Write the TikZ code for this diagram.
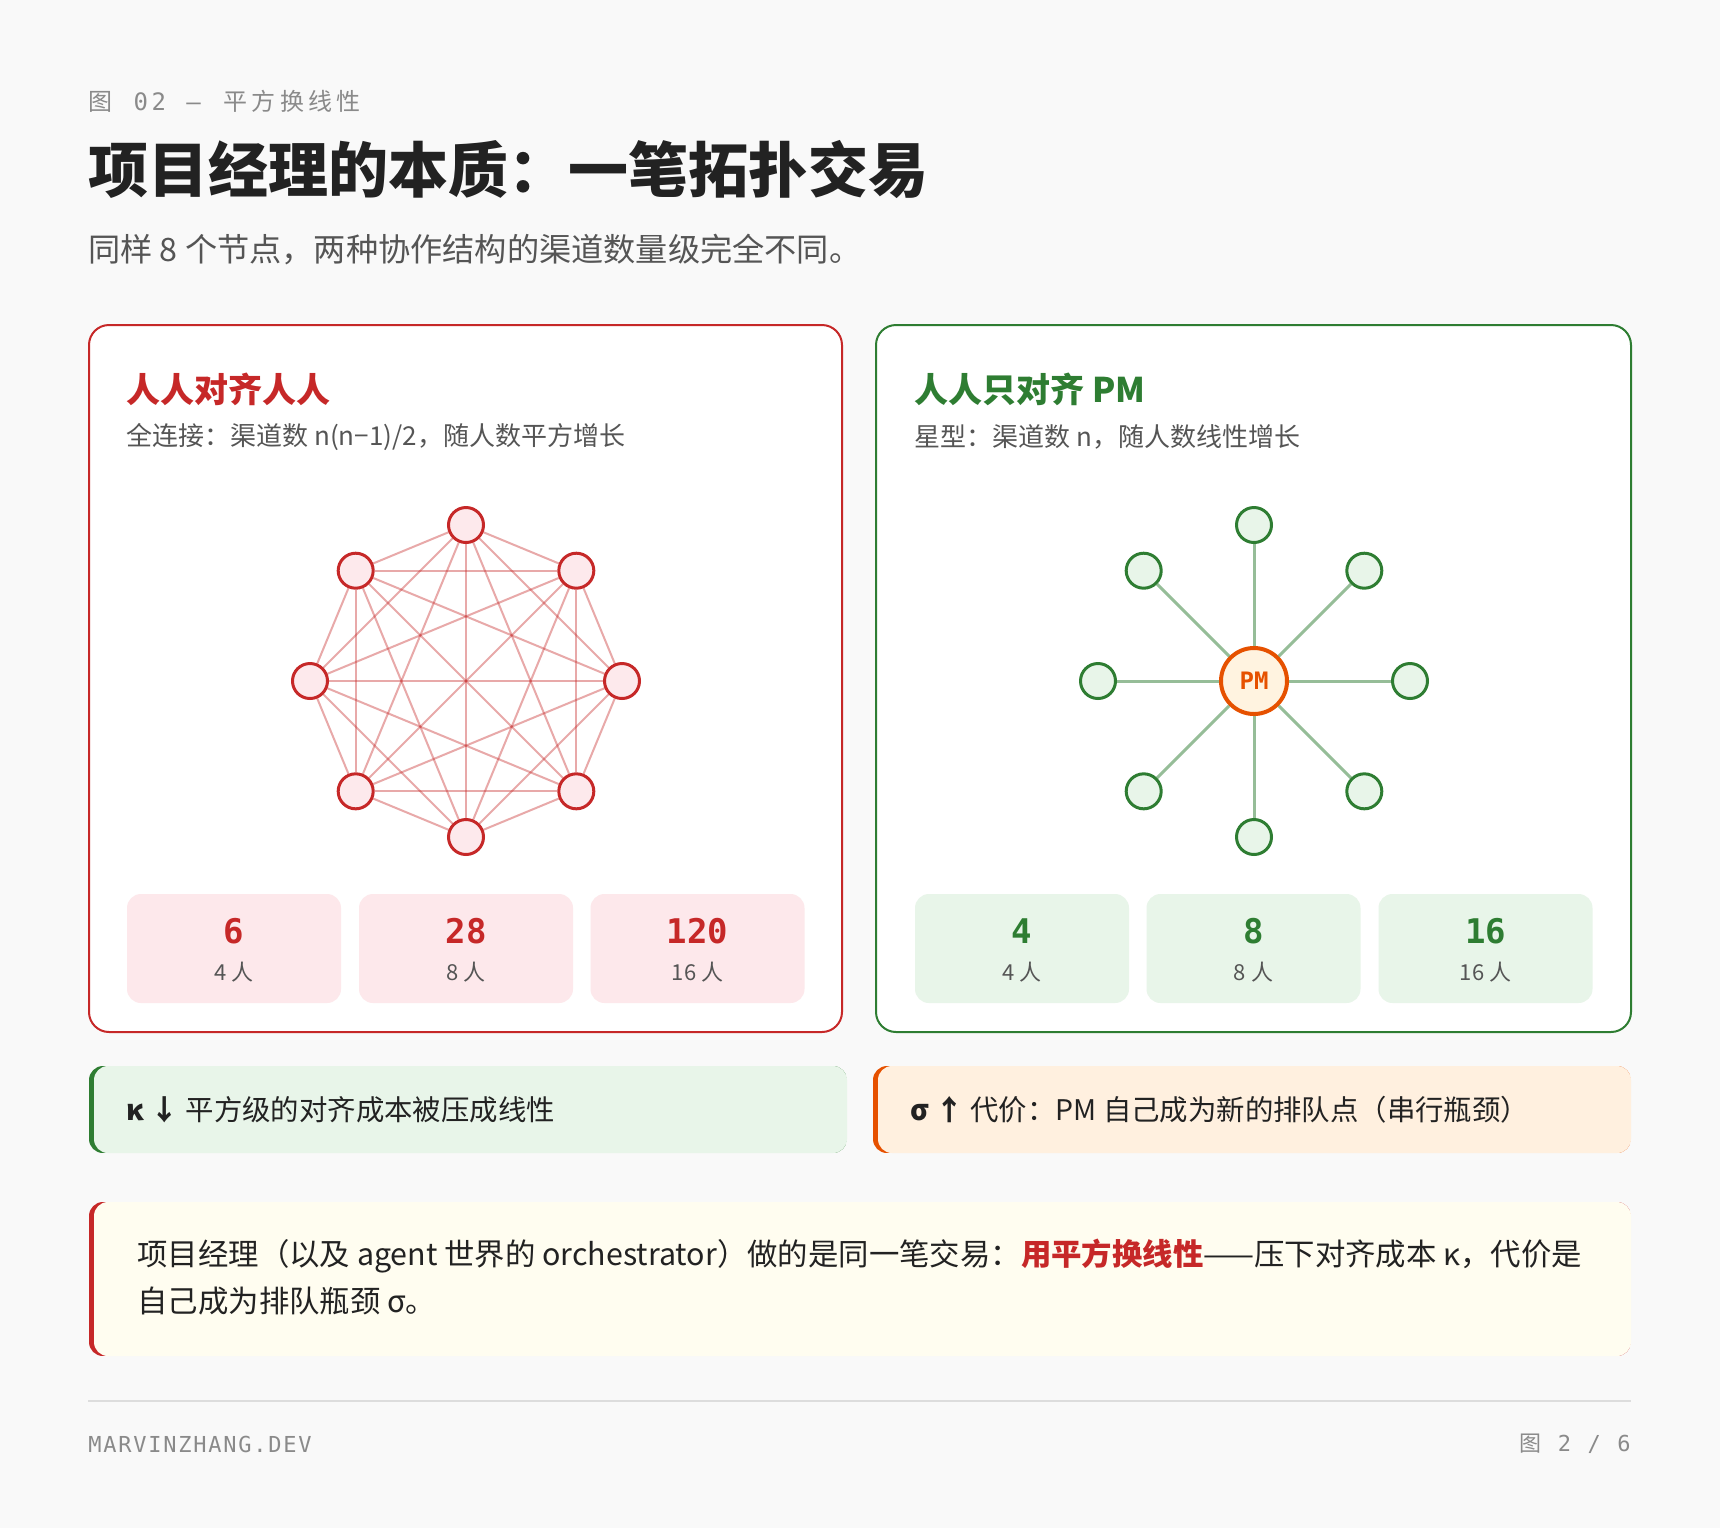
\documentclass[tikz,border=0pt]{standalone}
\usepackage{fontspec}
\setmainfont{Noto Sans CJK SC}
\setmonofont{DejaVu Sans Mono}
\newfontfamily\hdrcjk{Noto Sans CJK SC}[LetterSpace=18]
\newfontfamily\hdrmono{DejaVu Sans Mono}[LetterSpace=15]
\newfontfamily\ftmono{DejaVu Sans Mono}[LetterSpace=8]
\definecolor{cbg}{HTML}{F9F9F9}
\definecolor{cred}{HTML}{C62828}
\definecolor{cpink}{HTML}{FDE9EC}
\definecolor{cstatred}{HTML}{FDE8EB}
\definecolor{cgreen}{HTML}{2E7D32}
\definecolor{cgreenfill}{HTML}{E8F5E9}
\definecolor{corange}{HTML}{E65100}
\definecolor{corangefill}{HTML}{FFF3E0}
\definecolor{ccallorange}{HTML}{FFF0DF}
\definecolor{cyellow}{HTML}{FFFDF0}
\definecolor{cdark}{HTML}{222222}
\definecolor{cgray}{HTML}{555555}
\definecolor{clight}{HTML}{8A8A8A}
\definecolor{cline}{HTML}{DDDDDD}
\newcommand\callbox[6]{%
  \begin{scope}
    \clip[rounded corners=7pt] (#1,#2) rectangle (#3,#4);
    \fill[#5] (#1,#2) rectangle (#3,#4);
    \fill[#6,rounded corners=7pt] ({#1+5},#2) rectangle ({#3+5},#4);
  \end{scope}}
\begin{document}
\begin{tikzpicture}[x=0.5pt,y=-0.5pt,
  card/.style={line width=1pt, fill=white, rounded corners=10pt},
  rnode/.style={circle, draw=cred, fill=cpink, line width=1.5pt, minimum size=17.5pt, inner sep=0pt},
  gnode/.style={circle, draw=cgreen, fill=cgreenfill, line width=1.5pt, minimum size=17.5pt, inner sep=0pt},
  pmnode/.style={circle, draw=corange, fill=corangefill, line width=2pt, minimum size=33pt, inner sep=0pt, text=corange, font=\ttfamily\bfseries\fontsize{12}{14}\selectfont},
  redge/.style={draw=cred, draw opacity=0.4, line width=1pt},
  gedge/.style={draw=cgreen, draw opacity=0.5, line width=1.5pt},
  stat/.style={rounded corners=7pt, minimum width=107pt, minimum height=54.5pt, inner sep=0pt},
  num/.style={font=\ttfamily\bfseries\fontsize{17}{20}\selectfont},
  lbl/.style={text=cgray, font=\fontsize{11}{13}\selectfont},
  txt/.style={anchor=west, inner sep=0pt},
]
\useasboundingbox (0,0) rectangle (1720,1528);
\fill[cbg] (0,0) rectangle (1720,1528);

% header
\node[txt, text=clight, font=\fontsize{12}{14}\selectfont] (hdr) at (88,101)
  {{\hdrcjk 图}\hspace{10.6pt}{\hdrmono 02}\hspace{10.2pt}{\hdrmono —}\hspace{11.3pt}{\hdrcjk 平方换线性}};
\node[txt, text=cdark, font=\bfseries\fontsize{30}{36}\selectfont] (title) at (88,170)
  {项目经理的本质：一笔拓扑交易};
\node[txt, text=cgray, font=\fontsize{16.1}{19}\selectfont] (sub) at (88,250)
  {同样 8 个节点，两种协作结构的渠道数量级完全不同。};

% cards
\draw[card, draw=cred] (89,325) rectangle (842,1032);
\draw[card, draw=cgreen] (876,325) rectangle (1631,1032);

\node[txt, text=cred, font=\bfseries\fontsize{17}{20}\selectfont] (lt) at (126,389) {人人对齐人人};
\node[txt, text=cgray, font=\fontsize{13}{16}\selectfont] (ls) at (126,437) {全连接：渠道数 n(n−1)/2，随人数平方增长};
\node[txt, text=cgreen, font=\bfseries\fontsize{17}{20}\selectfont] (rt) at (914,389) {人人只对齐 PM};
\node[txt, text=cgray, font=\fontsize{13}{16}\selectfont] (rs) at (914,437) {星型：渠道数 n，随人数线性增长};

% left full graph
\foreach \k in {0,...,7}{
  \pgfmathsetmacro\ang{90-45*\k}
  \node[rnode] (L\k) at ({466+156*cos(\ang)},{681-156*sin(\ang)}) {};
}
\foreach \i in {0,...,7}{
  \foreach \j in {0,...,7}{
    \ifnum\i<\j \draw[redge] (L\i) -- (L\j); \fi
  }
}

% right star graph
\node[pmnode] (PM) at (1254,681) {PM};
\foreach \k in {0,...,7}{
  \pgfmathsetmacro\ang{90-45*\k}
  \node[gnode] (R\k) at ({1254+156*cos(\ang)},{681-156*sin(\ang)}) {};
  \draw[gedge] (PM) -- (R\k);
}

% stat boxes left
\node[stat, fill=cstatred] (s1) at (234,948.5) {};
\node[stat, fill=cstatred] (s2) at (466,948.5) {};
\node[stat, fill=cstatred] (s3) at (697.5,948.5) {};
\node[num, text=cred] (n1) at (234,931) {6};
\node[num, text=cred] (n2) at (466,931) {28};
\node[num, text=cred] (n3) at (697.5,931) {120};
\node[lbl] (l1) at (234,972) {4 人};
\node[lbl] (l2) at (466,972) {8 人};
\node[lbl] (l3) at (697.5,972) {16 人};

% stat boxes right
\node[stat, fill=cgreenfill] (t1) at (1022,948.5) {};
\node[stat, fill=cgreenfill] (t2) at (1253.5,948.5) {};
\node[stat, fill=cgreenfill] (t3) at (1485.5,948.5) {};
\node[num, text=cgreen] (m1) at (1022,931) {4};
\node[num, text=cgreen] (m2) at (1253.5,931) {8};
\node[num, text=cgreen] (m3) at (1485.5,931) {16};
\node[lbl] (k1) at (1022,972) {4 人};
\node[lbl] (k2) at (1253.5,972) {8 人};
\node[lbl] (k3) at (1485.5,972) {16 人};

% callouts
\callbox{89}{1066}{847}{1153}{cgreen}{cgreenfill}
\callbox{873}{1066}{1631}{1153}{corange}{ccallorange}
\node[txt, text=cdark, font=\fontsize{14.2}{17}\selectfont] (c1) at (126,1110)
  {{\bfseries κ ↓} 平方级的对齐成本被压成线性};
\node[txt, text=cdark, font=\fontsize{14.2}{17}\selectfont] (c2) at (910,1110)
  {{\bfseries σ ↑} 代价：PM 自己成为新的排队点（串行瓶颈）};

\callbox{89}{1202}{1631}{1356}{cred}{cyellow}
\node[txt, text=cdark, align=left, font=\fontsize{15.2}{23.5}\selectfont] (c3) at (137,1277.5)
  {项目经理（以及 agent 世界的 orchestrator）做的是同一笔交易：{\bfseries\color{cred}用平方换线性}——压下对齐成本 κ，代价是\\自己成为排队瓶颈 σ。};

% footer
\draw[cline, line width=1pt] (88,1401) -- (1631,1401);
\node[txt, text=clight, font=\ftmono\fontsize{11}{13}\selectfont] (f1) at (88,1444) {MARVINZHANG.DEV};
\node[anchor=east, inner sep=0pt, text=clight, font=\fontsize{11}{13}\selectfont] (f2) at (1631,1444)
  {{\hdrcjk 图}\hspace{8pt}{\hdrmono 2 / 6}};
\end{tikzpicture}
\end{document}
